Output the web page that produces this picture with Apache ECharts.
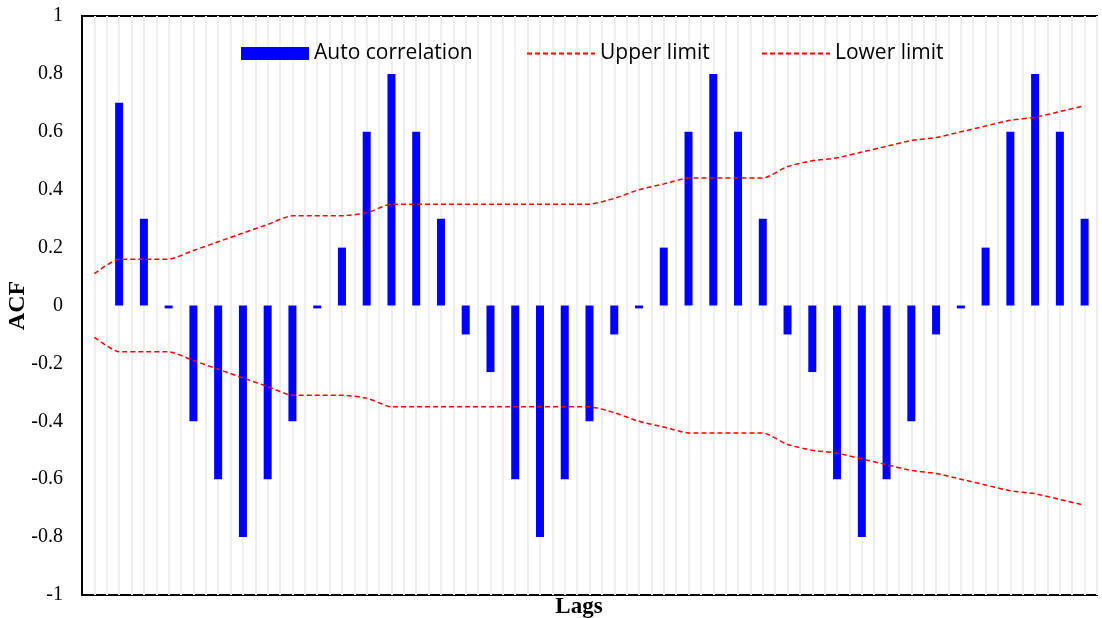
<!DOCTYPE html>
<html>
<head>
<meta charset="utf-8">
<script src="https://cdn.jsdelivr.net/npm/echarts@6/dist/echarts.min.js"></script>
<style>
  html, body { margin: 0; padding: 0; background: #fff; }
  #chart { width: 1102px; height: 618px; }
</style>
</head>
<body>
<div id="chart"></div>
<script>
// Lag numbers along the horizontal axis
const lags = [0, 1, 2, 3, 4, 5, 6, 7, 8, 9, 10, 11, 12, 13, 14, 15, 16, 17, 18, 19, 20,
              21, 22, 23, 24, 25, 26, 27, 28, 29, 30, 31, 32, 33, 34, 35, 36, 37, 38, 39, 40];

// Autocorrelation at each lag (no bar at lag 0)
const acf = [null, 0.7, 0.3, -0.01, -0.4, -0.6, -0.8, -0.6, -0.4, -0.01, 0.2,
             0.6, 0.8, 0.6, 0.3, -0.1, -0.23, -0.6, -0.8, -0.6, -0.4,
             -0.1, -0.01, 0.2, 0.6, 0.8, 0.6, 0.3, -0.1, -0.23, -0.6,
             -0.8, -0.6, -0.4, -0.1, -0.01, 0.2, 0.6, 0.8, 0.6, 0.3];

// Confidence band
const upperLimit = [0.11, 0.16, 0.16, 0.16, 0.19, 0.22, 0.25, 0.28, 0.31, 0.31, 0.31,
                    0.32, 0.35, 0.35, 0.35, 0.35, 0.35, 0.35, 0.35, 0.35, 0.35,
                    0.37, 0.40, 0.42, 0.44, 0.44, 0.44, 0.44, 0.48, 0.50, 0.51,
                    0.53, 0.55, 0.57, 0.58, 0.60, 0.62, 0.64, 0.65, 0.67, 0.69];
const lowerLimit = [-0.11, -0.16, -0.16, -0.16, -0.19, -0.22, -0.25, -0.28, -0.31, -0.31, -0.31,
                    -0.32, -0.35, -0.35, -0.35, -0.35, -0.35, -0.35, -0.35, -0.35, -0.35,
                    -0.37, -0.40, -0.42, -0.44, -0.44, -0.44, -0.44, -0.48, -0.50, -0.51,
                    -0.53, -0.55, -0.57, -0.58, -0.60, -0.62, -0.64, -0.65, -0.67, -0.69];

const seriesNames = ['Auto correlation', 'Upper limit', 'Lower limit'];
const yTicks = { min: -1, max: 1, step: 0.2 };

const pairs = arr => lags.map((l, i) => [l, arr[i]]);

const chart = echarts.init(document.getElementById('chart'), null, { renderer: 'canvas' });

const legendText = { fontFamily: 'Open Sans', fontSize: 21, color: '#000' };
const legendBase = {
  top: 43, itemWidth: 68, itemHeight: 13, itemGap: 8,
  textStyle: legendText, selectedMode: false, padding: 0
};
// dashed swatch only, no marker dot on the line keys
const lineKey = name => ({ name: name, itemStyle: { color: 'rgba(0,0,0,0)', borderWidth: 0 } });

chart.setOption({
  animation: false,
  backgroundColor: '#fff',
  grid: {
    left: 82, right: 5, top: 16, bottom: 23,
    outerBoundsMode: 'none',
    containLabel: false,
    show: true, borderColor: '#000', borderWidth: 2, backgroundColor: '#fff'
  },
  legend: [
    Object.assign({}, legendBase, { left: 241, data: [{ name: seriesNames[0], icon: 'rect' }] }),
    Object.assign({}, legendBase, { left: 526, data: [lineKey(seriesNames[1])] }),
    Object.assign({}, legendBase, { left: 761, data: [lineKey(seriesNames[2])] })
  ],
  xAxis: {
    type: 'value',
    min: -0.5, max: 40.5, interval: 0.5,
    name: 'Lags',
    nameLocation: 'middle',
    nameGap: 1,
    nameMoveOverlap: false,
    nameTextStyle: {
      fontFamily: 'Liberation Serif', fontWeight: 'bold', fontSize: 23, color: '#000',
      verticalAlign: 'top', padding: [0, 21, 0, 0]
    },
    axisLine: { show: false },
    axisTick: { show: false },
    axisLabel: { show: false },
    splitLine: { show: true, lineStyle: { color: '#efefef', width: 2 } }
  },
  yAxis: {
    type: 'value',
    min: yTicks.min, max: yTicks.max, interval: yTicks.step,
    name: 'ACF',
    nameLocation: 'middle',
    nameRotate: 90,
    nameGap: 52,
    nameMoveOverlap: false,
    nameTextStyle: {
      fontFamily: 'Liberation Serif', fontWeight: 'bold', fontSize: 24, color: '#000'
    },
    axisLine: { show: true, onZero: false, lineStyle: { color: '#000', width: 2 } },
    axisTick: { show: false },
    axisLabel: {
      margin: 19, fontFamily: 'Liberation Serif', fontSize: 20, color: '#000',
      formatter: v => String(Math.round(v * 10) / 10)
    },
    splitLine: { show: false }
  },
  series: [
    {
      name: seriesNames[0],
      type: 'bar',
      data: pairs(acf),
      barWidth: 8,
      itemStyle: { color: '#0000ff' },
      z: 2
    },
    {
      name: seriesNames[1],
      type: 'line',
      data: pairs(upperLimit),
      symbol: 'none',
      smooth: 0.2,
      lineStyle: { color: '#ff0000', width: 1.5, type: [5, 3] },
      itemStyle: { color: '#ff0000' },
      z: 3
    },
    {
      name: seriesNames[2],
      type: 'line',
      data: pairs(lowerLimit),
      symbol: 'none',
      smooth: 0.2,
      lineStyle: { color: '#ff0000', width: 1.5, type: [5, 3] },
      itemStyle: { color: '#ff0000' },
      z: 3
    }
  ]
});
</script>
</body>
</html>
